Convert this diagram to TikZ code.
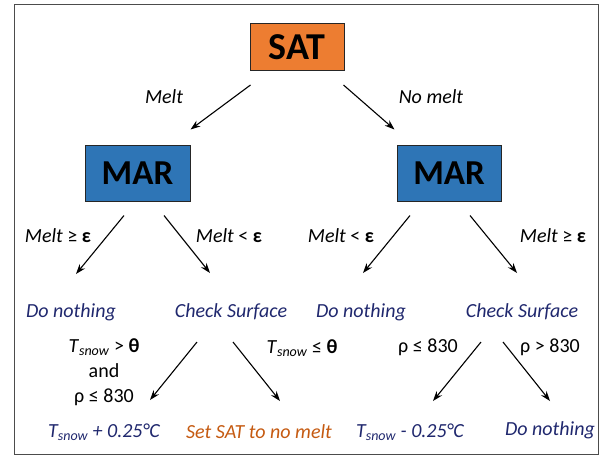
\documentclass[tikz,border=0pt]{standalone}
\usepackage{fontspec}
\setmainfont{Carlito}
\usetikzlibrary{arrows.meta,calc}
\definecolor{satorange}{RGB}{237,125,49}
\definecolor{marblue}{RGB}{46,117,182}
\definecolor{actnavy}{RGB}{32,40,110}
\definecolor{actorange}{RGB}{197,90,17}
\newcommand{\tsnow}{\textit{T}\textsubscript{\textit{snow}}}
\tikzset{
  box/.style={draw=black!85, line width=1pt, inner sep=0pt},
  lbl/.style={font=\fontsize{20}{24}\selectfont\itshape},
  cond/.style={font=\fontsize{20}{25}\selectfont, align=center},
  act/.style={font=\fontsize{20}{24}\selectfont\itshape, text=actnavy},
  arr/.style={-{Stealth[length=10pt,width=7pt]}, line width=1.1pt},
}
\begin{document}
\begin{tikzpicture}[x=1pt,y=-1pt]
	\useasboundingbox (0,0) rectangle (604,456);
	\draw[black!70, line width=1pt] (14,4) rectangle (598,454);
	% boxes
	\node[box, fill=satorange, minimum width=94pt, minimum height=47pt, font=\fontsize{38}{40}\selectfont\bfseries] (sat) at (297,47) {SAT};
	\node[box, fill=marblue, minimum width=105pt, minimum height=56pt, font=\fontsize{35}{40}\selectfont\bfseries] (marL) at (137.5,173) {MAR};
	\node[box, fill=marblue, minimum width=104pt, minimum height=56pt, font=\fontsize{35}{40}\selectfont\bfseries] (marR) at (449,173) {MAR};
	\node[lbl] (melt) at (164,97) {Melt};
	\node[lbl] (nomelt) at (431,97) {No melt};
	\draw[arr] ($(sat.south west)+(1,14)$) -- ($(marL.north east)+(0,-15)$);
	\draw[arr] ($(sat.south east)+(-1,14)$) -- ($(marR.north west)+(-2,-15)$);
	% second level
	\node[lbl] (geL) at (58,236) {Melt \upshape≥ \textbf{ε}};
	\node[lbl] (ltL) at (229,236) {Melt \upshape< \textbf{ε}};
	\node[lbl] (ltR) at (341,236) {Melt \upshape< \textbf{ε}};
	\node[lbl] (geR) at (553,236) {Melt \upshape≥ \textbf{ε}};
	\node[act] (dnL) at (71,312) {Do nothing};
	\node[act] (csL) at (231,312) {Check Surface};
	\node[act] (dnR) at (361,312) {Do nothing};
	\node[act] (csR) at (522,312) {Check Surface};
	\draw[arr] ($(marL.south)+(-13.5,14)$) -- ($(dnL)+(5,-38)$);
	\draw[arr] ($(marL.south)+(26.5,14)$) -- ($(csL)+(-21,-39)$);
	\draw[arr] ($(marR.south)+(-39,14)$) -- ($(dnR)+(2,-39)$);
	\draw[arr] ($(marR.south)+(21,14)$) -- ($(csR)+(-5,-39)$);
	% surface check
	\node[cond] (condA) at (104,372) {\tsnow{} > \textbf{θ}\\and\\ρ ≤ 830};
	\node[cond] (condB) at (302,348) {\tsnow{} ≤ \textbf{θ}};
	\node[cond] (condC) at (428,347) {ρ ≤ 830};
	\node[cond] (condD) at (550,347) {ρ > 830};
	\node[act] (resA) at (104,432) {\tsnow{} + 0.25°C};
	\node[act, text=actorange] (resB) at (259,432) {Set SAT to no melt};
	\node[act] (resC) at (410,432) {\tsnow{} - 0.25°C};
	\node[act] (resD) at (550,430) {Do nothing};
	\draw[arr] ($(csL)+(-34,30)$) -- ($(resA)+(46,-32)$);
	\draw[arr] ($(csL)+(2,30)$) -- ($(resB)+(21,-31)$);
	\draw[arr] ($(csR)+(-41,30)$) -- ($(resC)+(23,-31)$);
	\draw[arr] ($(csR)+(-19,30)$) -- ($(resD)+(0,-29)$);
\end{tikzpicture}
\end{document}
